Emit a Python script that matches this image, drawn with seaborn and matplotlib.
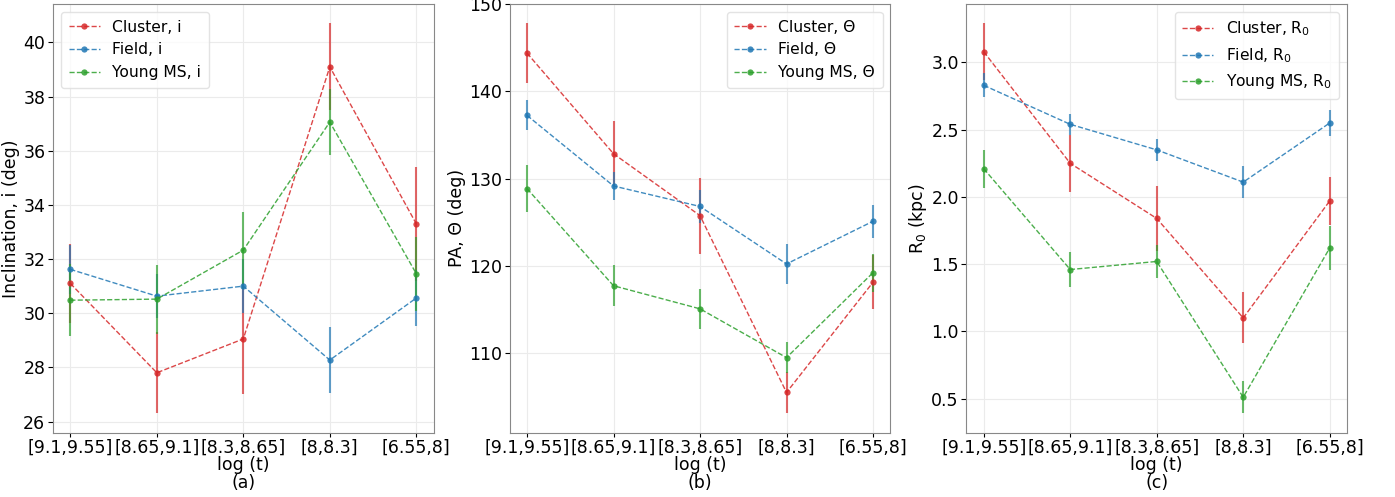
import numpy as np
import pandas as pd
import matplotlib
matplotlib.use("Agg")
import matplotlib.pyplot as plt
import seaborn as sns

# ---- data ----
age_bins = ["[9.1,9.55]", "[8.65,9.1]", "[8.3,8.65]", "[8,8.3]", "[6.55,8]"]
groups = ["Cluster", "Field", "Young MS"]

incl_cluster = [31.1, 27.8, 29.05, 39.1, 33.3]
incl_cluster_err = [1.45, 1.5, 2.05, 1.6, 2.1]
incl_field = [31.62, 30.63, 31.0, 28.27, 30.56]
incl_field_err = [0.9, 0.8, 1.0, 1.22, 1.05]
incl_young = [30.48, 30.52, 32.33, 37.06, 31.46]
incl_young_err = [1.32, 1.27, 1.42, 1.22, 1.37]

pa_cluster = [144.4, 132.85, 125.75, 105.45, 118.1]
pa_cluster_err = [3.4, 3.75, 4.35, 2.4, 3.1]
pa_field = [137.25, 129.15, 126.8, 120.2, 125.1]
pa_field_err = [1.72, 1.65, 1.9, 2.33, 1.9]
pa_young = [128.85, 117.7, 115.05, 109.45, 119.2]
pa_young_err = [2.7, 2.35, 2.33, 1.8, 2.2]

r0_cluster = [3.08, 2.25, 1.84, 1.10, 1.97]
r0_cluster_err = [0.21, 0.21, 0.24, 0.19, 0.18]
r0_field = [2.83, 2.54, 2.35, 2.11, 2.55]
r0_field_err = [0.09, 0.08, 0.08, 0.12, 0.10]
r0_young = [2.21, 1.46, 1.52, 0.51, 1.62]
r0_young_err = [0.14, 0.13, 0.12, 0.12, 0.16]

colors = ["#d62728", "#1f77b4", "#2ca02c"]

sns.set_style("whitegrid", {
    "axes.edgecolor": "#888888",
    "grid.color": "#ebebeb",
    "xtick.bottom": True,
    "ytick.left": True,
    "text.color": "black",
    "axes.labelcolor": "black",
    "xtick.color": "black",
    "ytick.color": "black",
})
plt.rcParams["font.family"] = ["DejaVu Sans"]
plt.rcParams["mathtext.default"] = "regular"
plt.rcParams["xtick.major.size"] = 3
plt.rcParams["ytick.major.size"] = 3.5

fig, axes = plt.subplots(1, 3, figsize=(13.95, 4.97), dpi=100)
fig.subplots_adjust(left=0.038, right=0.9656, top=0.992, bottom=0.129, wspace=0.2)

panels = [
    ([incl_cluster, incl_field, incl_young],
     [incl_cluster_err, incl_field_err, incl_young_err],
     "i", "Inclination, i (deg)", "(a)", "upper left"),
    ([pa_cluster, pa_field, pa_young],
     [pa_cluster_err, pa_field_err, pa_young_err],
     "Θ", "PA, Θ (deg)", "(b)", "upper right"),
    ([r0_cluster, r0_field, r0_young],
     [r0_cluster_err, r0_field_err, r0_young_err],
     "R$_0$", "R$_0$ (kpc)", "(c)", "upper right"),
]

for ax, (vals, errs, sym, ylabel, tag, loc) in zip(axes, panels):
    for g, v, e, c in zip(groups, vals, errs, colors):
        ax.errorbar(age_bins, v, yerr=e, fmt="none", ecolor=c,
                    elinewidth=1.5, alpha=0.7, zorder=2)
        df = pd.DataFrame({"bin": age_bins, "val": v})
        sns.lineplot(data=df, x="bin", y="val", ax=ax, sort=False,
                     color=c, linestyle="--", linewidth=1.0, alpha=0.85,
                     marker="o", markersize=4.5, markeredgewidth=0,
                     label=f"{g}, {sym}", zorder=3)
    ax.set_xlabel("log (t)\n" + tag, fontsize=12.5, labelpad=0, linespacing=1.0)
    ax.set_ylabel(ylabel, fontsize=12.5, labelpad=2)
    ax.tick_params(axis="x", labelsize=12.5, pad=1)
    ax.tick_params(axis="y", labelsize=12.5, pad=2)
    leg = ax.legend(loc=loc, fontsize=11.2, frameon=True, handlelength=2.0,
                    borderpad=0.5, labelspacing=0.5)
    leg.get_frame().set_edgecolor("#dddddd")

fig.savefig("out.png", dpi=100)
